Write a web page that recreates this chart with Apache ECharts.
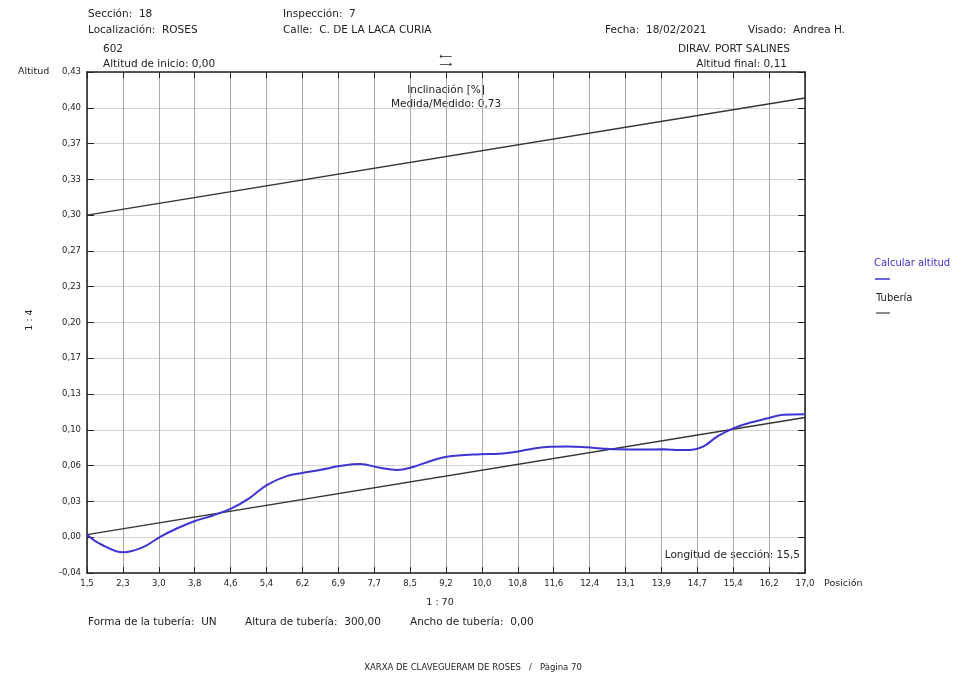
<!DOCTYPE html>
<html>
<head>
<meta charset="utf-8">
<script src="https://cdn.jsdelivr.net/npm/echarts@6/dist/echarts.min.js"></script>
<style>
html,body{margin:0;padding:0;background:#fff;}
#chart{width:977px;height:681px;}
</style>
</head>
<body>
<div id="chart"></div>
<script>
// ---- data ----
const xTicks = [1.5, 2.275, 3.05, 3.825, 4.6, 5.375, 6.15, 6.925, 7.7, 8.475, 9.25, 10.025, 10.8, 11.575, 12.35, 13.125, 13.9, 14.675, 15.45, 16.225, 17.0];
const xTickLabels = ['1,5','2,3','3,0','3,8','4,6','5,4','6,2','6,9','7,7','8,5','9,2','10,0','10,8','11,6','12,4','13,1','13,9','14,7','15,4','16,2','17,0'];
const yTicks = [-0.036, -0.0024, 0.0312, 0.0648, 0.0984, 0.132, 0.1656, 0.1992, 0.2328, 0.2664, 0.3, 0.3336, 0.3672, 0.4008, 0.4344];
const yTickLabels = ['-0,04','0,00','0,03','0,06','0,10','0,13','0,17','0,20','0,23','0,27','0,30','0,33','0,37','0,40','0,43'];

const altPositions = [1.5, 1.8, 2.28, 2.7, 3.08, 3.45, 3.83, 4.22, 4.62, 5.0, 5.38, 5.81, 6.17, 6.55, 6.96, 7.4, 7.8, 8.19, 8.54, 8.9, 9.26, 9.99, 10.4, 10.78, 11.15, 11.5, 11.9, 12.29, 12.6, 12.94, 13.5, 13.94, 14.3, 14.52, 14.8, 15.1, 15.45, 15.8, 16.17, 16.53, 17.0];
const altValues    = [0.0, -0.009, -0.0166, -0.012, -0.002, 0.006, 0.0128, 0.018, 0.0247, 0.034, 0.0466, 0.055, 0.0581, 0.061, 0.0644, 0.0663, 0.063, 0.0607, 0.0635, 0.069, 0.0731, 0.0756, 0.076, 0.0779, 0.081, 0.0826, 0.0828, 0.082, 0.081, 0.0801, 0.080, 0.0801, 0.0795, 0.0795, 0.0826, 0.092, 0.0998, 0.105, 0.109, 0.1125, 0.1131];

const pipePositions = [1.5, 17.0];
const pipeInvert = [0.0, 0.11];
const pipeCrown = [0.30, 0.41];

const seriesNames = ['Calcular altitud', 'Tubería'];

// ---- helpers ----
function zip(xs, ys){ return xs.map((x,i)=>[x, ys[i]]); }
function lookup(ticks, labels, v){
  for (let i=0;i<ticks.length;i++){ if (Math.abs(ticks[i]-v) < 1e-6) return labels[i]; }
  return '';
}

const BLUE = '#3d34d2';
const TXT = '#222';
const FONT = 'DejaVu Sans, Liberation Sans, sans-serif';

function txt(x, y, s, opts){
  opts = opts || {};
  return {
    type: 'text', x: x, y: y, rotation: opts.rotation || 0,
    style: {
      text: s, fill: opts.fill || TXT, fontSize: opts.size || 10.5, fontFamily: FONT,
      textAlign: opts.align || 'left', textVerticalAlign: 'middle'
    },
    silent: true
  };
}

const chart = echarts.init(document.getElementById('chart'), null, {renderer: 'canvas'});

const xCommon = {
  type: 'value', min: 1.5, max: 17.0,
  axisLine: {show: true, onZero: false, lineStyle: {color: '#222', width: 1.5}},
};
const yCommon = {
  type: 'value', min: -0.036, max: 0.4344,
  axisLine: {show: true, onZero: false, lineStyle: {color: '#222', width: 1.5}},
};

const option = {
  backgroundColor: '#fff',
  animation: false,
  grid: {left: 87, top: 72, width: 718, height: 501, containLabel: false},
  xAxis: [
    Object.assign({}, xCommon, {
      position: 'bottom',
      axisTick: {show: true, inside: true, length: 6, customValues: xTicks, lineStyle: {color: '#222'}},
      axisLabel: {show: true, customValues: xTicks, color: TXT, fontSize: 8.5, fontFamily: FONT, margin: 6,
        formatter: v => lookup(xTicks, xTickLabels, v)},
      splitLine: {show: true, lineStyle: {color: '#a8a8a8', width: 1}}
    }),
    Object.assign({}, xCommon, {
      position: 'top',
      axisTick: {show: true, inside: true, length: 6, customValues: xTicks, lineStyle: {color: '#222'}},
      axisLabel: {show: false},
      splitLine: {show: false}
    })
  ],
  yAxis: [
    Object.assign({}, yCommon, {
      position: 'left',
      axisTick: {show: true, inside: true, length: 7, customValues: yTicks, lineStyle: {color: '#222'}},
      axisLabel: {show: true, customValues: yTicks, color: TXT, fontSize: 8.5, fontFamily: FONT, margin: 6,
        formatter: v => lookup(yTicks, yTickLabels, v)},
      splitLine: {show: true, lineStyle: {color: '#d4d4d4', width: 1}}
    }),
    Object.assign({}, yCommon, {
      position: 'right',
      axisTick: {show: true, inside: true, length: 7, customValues: yTicks, lineStyle: {color: '#222'}},
      axisLabel: {show: false},
      splitLine: {show: false}
    })
  ],
  series: [
    {
      name: seriesNames[1], type: 'line', xAxisIndex: 0, yAxisIndex: 0,
      data: zip(pipePositions, pipeCrown), showSymbol: false,
      lineStyle: {color: '#333', width: 1.3}, z: 3
    },
    {
      name: seriesNames[1], type: 'line', xAxisIndex: 0, yAxisIndex: 0,
      data: zip(pipePositions, pipeInvert), showSymbol: false,
      lineStyle: {color: '#333', width: 1.3}, z: 3
    },
    {
      name: seriesNames[0], type: 'line', xAxisIndex: 0, yAxisIndex: 0,
      data: zip(altPositions, altValues), showSymbol: false, smooth: 0.4,
      lineStyle: {color: BLUE, width: 2}, z: 4
    }
  ],
  graphic: [
    txt(88, 14, 'Sección:  18'),
    txt(283, 14, 'Inspección:  7'),
    txt(88, 30, 'Localización:  ROSES'),
    txt(283, 30, 'Calle:  C. DE LA LACA CURIA'),
    txt(605, 30, 'Fecha:  18/02/2021'),
    txt(748, 30, 'Visado:  Andrea H.'),
    txt(103, 49, '602'),
    txt(103, 64, 'Altitud de inicio: 0,00'),
    txt(790, 49, 'DIRAV. PORT SALINES', {align: 'right'}),
    txt(787, 64, 'Altitud final: 0,11', {align: 'right'}),
    txt(446, 57, '⟵', {align: 'center', size: 9}),
    txt(446, 65, '⟶', {align: 'center', size: 9}),
    txt(18, 72, 'Altitud', {size: 9.5}),
    txt(30, 320, '1 : 4', {rotation: Math.PI/2, align: 'center', size: 9.5}),
    txt(446, 90, 'Inclinación [%]', {align: 'center'}),
    txt(446, 104, 'Medida/Medido: 0,73', {align: 'center'}),
    txt(800, 555, 'Longitud de sección: 15,5', {align: 'right'}),
    txt(824, 584, 'Posición', {size: 9.5}),
    txt(440, 603, '1 : 70', {align: 'center', size: 9.5}),
    txt(88, 622, 'Forma de la tubería:  UN'),
    txt(245, 622, 'Altura de tubería:  300,00'),
    txt(410, 622, 'Ancho de tubería:  0,00'),
    txt(473, 668, 'XARXA DE CLAVEGUERAM DE ROSES   /   Pàgina 70', {align: 'center', size: 8.5}),
    txt(874, 263, seriesNames[0], {fill: BLUE, size: 10}),
    {type: 'line', shape: {x1: 875, y1: 279, x2: 890, y2: 279}, style: {stroke: BLUE, lineWidth: 1.5}, silent: true},
    txt(876, 298, seriesNames[1], {size: 10}),
    {type: 'line', shape: {x1: 876, y1: 313, x2: 890, y2: 313}, style: {stroke: '#666', lineWidth: 1.5}, silent: true}
  ]
};
chart.setOption(option);
</script>
</body>
</html>
